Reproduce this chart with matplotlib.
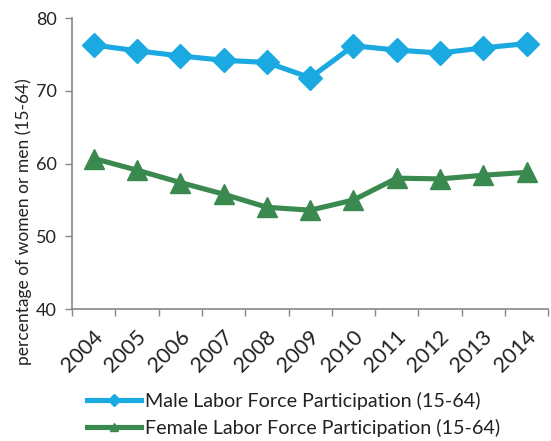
import matplotlib
matplotlib.use("Agg")
import matplotlib.pyplot as plt
import matplotlib.transforms as mtransforms
import numpy as np

years = ["2004", "2005", "2006", "2007", "2008", "2009", "2010", "2011", "2012", "2013", "2014"]
male = [76.3, 75.5, 74.8, 74.2, 73.9, 71.8, 76.2, 75.6, 75.2, 75.9, 76.5]
female = [60.7, 59.1, 57.4, 55.8, 54.0, 53.6, 55.0, 58.0, 57.9, 58.4, 58.8]

male_color = "#1BA9E1"
female_color = "#3A8A50"

plt.rcParams['font.family'] = ['Lato', 'DejaVu Sans']
plt.rcParams['text.color'] = '#222222'

fig = plt.figure(figsize=(5.51, 4.41), dpi=100)
ax = fig.add_axes([0.131, 0.299, 0.864, 0.66])

x = np.arange(len(years))
ax.plot(x, male, color=male_color, lw=3.7, marker='D', ms=12.5, label="Male Labor Force Participation (15-64)")
ax.plot(x, female, color=female_color, lw=3.7, marker='^', ms=14, label="Female Labor Force Participation (15-64)")

ax.set_xlim(-0.5, len(years) - 0.5)
ax.set_ylim(40, 80)
ax.set_yticks([40, 50, 60, 70, 80])
ax.tick_params(axis='y', labelsize=13, length=5, color='#888888', width=1, pad=6, labelcolor='#222222')

ax.set_xticks(x)
ax.set_xticklabels(years, rotation=45, ha='right', va='center', rotation_mode='anchor', fontsize=15.5, color='#222222')
ax.tick_params(axis='x', which='major', length=0, pad=18)
offset = mtransforms.ScaledTranslation(6 / 100, 0, fig.dpi_scale_trans)
for lab in ax.get_xticklabels():
    lab.set_transform(lab.get_transform() + offset)
ax.set_xticks(np.arange(-0.5, len(years)), minor=True)
ax.tick_params(axis='x', which='minor', length=5, color='#888888', width=1)

for s in ['top', 'right']:
    ax.spines[s].set_visible(False)
for s in ['left', 'bottom']:
    ax.spines[s].set_color('#888888')
    ax.spines[s].set_linewidth(1.2)

ax.set_ylabel("percentage of women or men (15-64)", fontsize=12.5, color='#222222')
ax.yaxis.set_label_coords(-0.084, 0.30)

leg = fig.legend(loc='upper left', bbox_to_anchor=(87 / 551, 1 - 392 / 441), frameon=False, fontsize=14.2,
                 handlelength=2.75, handletextpad=0.2, labelspacing=0.45, markerscale=0.45,
                 borderaxespad=0, borderpad=0)

fig.savefig("out.png", dpi=100)
